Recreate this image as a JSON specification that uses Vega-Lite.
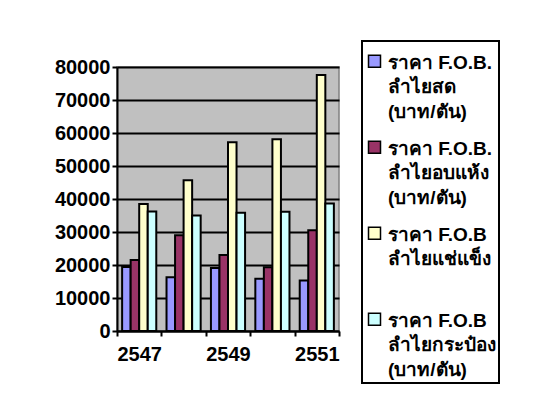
{
  "$schema": "https://vega.github.io/schema/vega-lite/v6.json",
  "width": 222,
  "height": 264,
  "autosize": "none",
  "padding": {"left": 117, "top": 67, "right": 212, "bottom": 88},
  "background": "white",
  "config": {
    "view": {"fill": "#C0C0C0", "stroke": "#808080", "strokeWidth": 1.5},
    "font": "Liberation Sans",
    "legend": {"strokeWidth": 2},
    "style": {"guide-label": {"lineHeight": 24.5}}
  },
  "data": {
    "values": [
      {"year": "2547", "series": "ราคา F.O.B.\nลำไยสด\n(บาท/ตัน)", "value": 19400},
      {"year": "2547", "series": "ราคา F.O.B.\nลำไยอบแห้ง\n(บาท/ตัน)", "value": 21500},
      {"year": "2547", "series": "ราคา F.O.B\nลำไยแช่แข็ง\n ", "value": 38500},
      {"year": "2547", "series": "ราคา F.O.B\nลำไยกระป๋อง\n(บาท/ตัน)", "value": 36200},
      {"year": "2548", "series": "ราคา F.O.B.\nลำไยสด\n(บาท/ตัน)", "value": 16300},
      {"year": "2548", "series": "ราคา F.O.B.\nลำไยอบแห้ง\n(บาท/ตัน)", "value": 29000},
      {"year": "2548", "series": "ราคา F.O.B\nลำไยแช่แข็ง\n ", "value": 45700},
      {"year": "2548", "series": "ราคา F.O.B\nลำไยกระป๋อง\n(บาท/ตัน)", "value": 35000},
      {"year": "2549", "series": "ราคา F.O.B.\nลำไยสด\n(บาท/ตัน)", "value": 19100},
      {"year": "2549", "series": "ราคา F.O.B.\nลำไยอบแห้ง\n(บาท/ตัน)", "value": 23000},
      {"year": "2549", "series": "ราคา F.O.B\nลำไยแช่แข็ง\n ", "value": 57200},
      {"year": "2549", "series": "ราคา F.O.B\nลำไยกระป๋อง\n(บาท/ตัน)", "value": 35800},
      {"year": "2550", "series": "ราคา F.O.B.\nลำไยสด\n(บาท/ตัน)", "value": 15800},
      {"year": "2550", "series": "ราคา F.O.B.\nลำไยอบแห้ง\n(บาท/ตัน)", "value": 19300},
      {"year": "2550", "series": "ราคา F.O.B\nลำไยแช่แข็ง\n ", "value": 58100},
      {"year": "2550", "series": "ราคา F.O.B\nลำไยกระป๋อง\n(บาท/ตัน)", "value": 36100},
      {"year": "2551", "series": "ราคา F.O.B.\nลำไยสด\n(บาท/ตัน)", "value": 15300},
      {"year": "2551", "series": "ราคา F.O.B.\nลำไยอบแห้ง\n(บาท/ตัน)", "value": 30500},
      {"year": "2551", "series": "ราคา F.O.B\nลำไยแช่แข็ง\n ", "value": 77600},
      {"year": "2551", "series": "ราคา F.O.B\nลำไยกระป๋อง\n(บาท/ตัน)", "value": 38600}
    ]
  },
  "mark": {"type": "bar", "stroke": "black", "strokeWidth": 2},
  "encoding": {
    "x": {
      "field": "year",
      "type": "nominal",
      "scale": {"domain": ["2547", "2548", "2549", "2550", "2551"], "paddingInner": 0, "paddingOuter": 0},
      "axis": {
        "orient": "bottom",
        "title": null,
        "labelAngle": 0,
        "tickBand": "extent",
        "domainColor": "black",
        "domainWidth": 2,
        "tickColor": "black",
        "tickWidth": 2,
        "tickSize": 5,
        "labelFont": "Liberation Sans",
        "labelFontWeight": "bold",
        "labelFontSize": 20,
        "labelColor": "black",
        "labelPadding": 8,
        "labelExpr": "indexof(['2547','2549','2551'], datum.label) >= 0 ? datum.label : ''"
      }
    },
    "y": {
      "field": "value",
      "type": "quantitative",
      "scale": {"domain": [0, 80000], "nice": false, "zero": true},
      "axis": {
        "orient": "left",
        "title": null,
        "values": [0, 10000, 20000, 30000, 40000, 50000, 60000, 70000, 80000],
        "format": "d",
        "grid": true,
        "gridColor": "black",
        "gridWidth": 2,
        "gridOpacity": 1,
        "domainColor": "black",
        "domainWidth": 2,
        "tickColor": "black",
        "tickWidth": 2,
        "tickSize": 5,
        "labelFont": "Liberation Sans",
        "labelFontWeight": "bold",
        "labelFontSize": 20,
        "labelColor": "black",
        "labelPadding": 2
      }
    },
    "xOffset": {
      "field": "series",
      "type": "nominal",
      "scale": {"paddingInner": 0, "paddingOuter": 0.6, "domain": ["ราคา F.O.B.\nลำไยสด\n(บาท/ตัน)", "ราคา F.O.B.\nลำไยอบแห้ง\n(บาท/ตัน)", "ราคา F.O.B\nลำไยแช่แข็ง\n ", "ราคา F.O.B\nลำไยกระป๋อง\n(บาท/ตัน)"]}
    },
    "fill": {
      "field": "series",
      "type": "nominal",
      "scale": {
        "domain": ["ราคา F.O.B.\nลำไยสด\n(บาท/ตัน)", "ราคา F.O.B.\nลำไยอบแห้ง\n(บาท/ตัน)", "ราคา F.O.B\nลำไยแช่แข็ง\n ", "ราคา F.O.B\nลำไยกระป๋อง\n(บาท/ตัน)"],
        "range": ["#9999FF", "#993366", "#FFFFCC", "#CCFFFF"]
      },
      "legend": {
        "title": null,
        "orient": "none",
        "legendX": 245,
        "legendY": -26,
        "direction": "vertical",
        "symbolType": "M-1,0.3H1V2.3H-1Z",
        "symbolSize": 144,
        "symbolStrokeColor": "black",
        "symbolStrokeWidth": 1.5,
        "labelFont": "Liberation Sans",
        "labelFontWeight": "bold",
        "labelFontSize": 19,
        "labelColor": "black",
        "labelBaseline": "top",
        "labelLimit": 300,
        "labelExpr": "split(datum.label, '\\n')",
        "labelOffset": 4,
        "rowPadding": 8,
        "padding": 3,
        "strokeColor": "black",
        "fillColor": "white"
      }
    }
  }
}
